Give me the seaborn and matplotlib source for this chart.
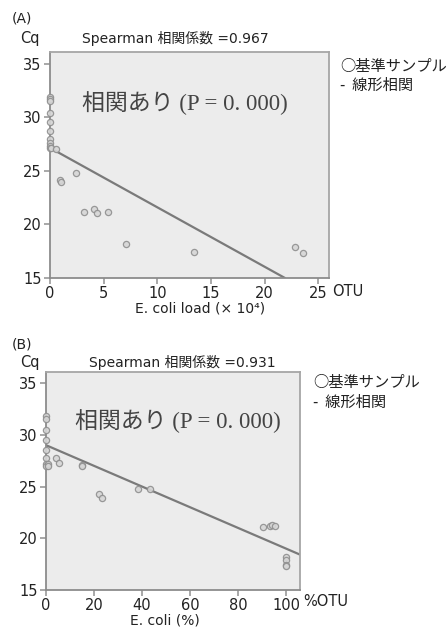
import numpy as np
import pandas as pd
import matplotlib
matplotlib.use("Agg")
import matplotlib.pyplot as plt
import seaborn as sns

sns.set_style("white")
plt.rcParams["font.family"] = ["DejaVu Sans", "Noto Sans CJK JP"]

# panel A: E. coli load (x10^4 OTU) vs Cq
load_a = [0, 0, 0, 0, 0, 0, 0, 0, 0, 0, 0.1, 0.6, 0.9, 1.0, 2.4,
          3.2, 4.1, 4.4, 5.4, 7.1, 13.4, 22.8, 23.6]
cq_a = [31.9, 31.7, 31.5, 30.45, 29.6, 28.7, 28.0, 27.6, 27.3, 27.1, 27.1, 27.05,
        24.15, 23.95, 24.8, 21.2, 21.4, 21.05, 21.2, 18.2, 17.4, 17.9, 17.3]
fit_a = (27.15, -0.555)

# panel B: E. coli (%OTU) vs Cq
pct_b = [0, 0, 0, 0, 0, 0, 0, 0, 1, 1, 4.2, 5.3, 15.2, 15.2, 22.2, 23.2,
         38.2, 43.2, 90.4, 93.3, 94.3, 95.3, 100, 100, 100, 100]
cq_b = [31.8, 31.5, 30.45, 29.5, 28.5, 27.8, 27.2, 27.0, 27.15, 27.0, 27.8, 27.3,
        27.1, 27.0, 24.25, 23.9, 24.75, 24.8, 21.05, 21.2, 21.3, 21.2,
        18.2, 17.9, 17.4, 17.3]
fit_b = (29.0, -0.1)

rho = ["0.967", "0.931"]
xlabels = ["E. coli load (\u00d7 10\u2074)", "E. coli (%)"]
unit_labels = ["OTU", "%OTU"]
panel_tags = ["(A)", "(B)"]
xlims = [(0, 26.0), (0, 105.8)]
xticks = [[0, 5, 10, 15, 20, 25], [0, 20, 40, 60, 80, 100]]
yticks = [15, 20, 25, 30, 35]

fig = plt.figure(figsize=(4.48, 6.28), dpi=100)
W, H = 448, 628


def px(x0, y0, x1, y1):
    return [x0 / W, 1 - y1 / H, (x1 - x0) / W, (y1 - y0) / H]


boxes = [px(50, 52, 329, 278), px(46, 371.7, 300, 590)]
# pixel positions (from top) of the texts around each panel
tag_y = [18, 345]
head_y = [38, 362]
title_x = [175, 182]
legend_x = [340, 313]
legend_y = [(66, 85), (383, 402)]
unit_y = [291, 602]
xlab = [(200, 309), (165, 621)]

frame_col = "#a6a6a6"
text_col = "#222222"
datasets = [(load_a, cq_a, fit_a), (pct_b, cq_b, fit_b)]


def fx(v):
    return v / W


def fy(v):
    return 1 - v / H


for i, (xs, ys, fit) in enumerate(datasets):
    ax = fig.add_axes(boxes[i])
    ax.set_facecolor("#ececec")
    df = pd.DataFrame({"x": xs, "cq": ys})
    sns.scatterplot(data=df, x="x", y="cq", ax=ax, s=20, marker="o",
                    facecolor="#d6d6d6", edgecolor="#8f8f8f", linewidth=0.9,
                    alpha=0.9, clip_on=False, zorder=3)
    ax.axline((0, fit[0]), slope=fit[1], color="#7a7a7a", lw=1.6, zorder=2)
    ax.set_xlim(*xlims[i])
    ax.set_ylim(15, 36.1)
    ax.set_xticks(xticks[i])
    ax.set_yticks(yticks)
    ax.set_xlabel("")
    ax.set_ylabel("")
    ax.tick_params(axis="both", which="both", direction="out", length=4,
                   width=1.2, color="#999999", labelsize=10.5, labelcolor=text_col,
                   bottom=True, left=True, pad=2)
    for sp in ax.spines.values():
        sp.set_color(frame_col)
        sp.set_linewidth(1.3)
    ax.spines["left"].set_color("#8c8c8c")
    ax.spines["bottom"].set_color("#8c8c8c")

    fig.text(fx(12), fy(tag_y[i]), panel_tags[i], fontsize=10, color=text_col,
             va="center", ha="left")
    fig.text(fx(20), fy(head_y[i]), "Cq", fontsize=10.5, color=text_col,
             va="center", ha="left")
    fig.text(fx(title_x[i]), fy(head_y[i]), "Spearman 相関係数 =" + rho[i],
             fontsize=10, color=text_col, va="center", ha="center",
             family=["DejaVu Sans", "Noto Sans CJK JP"])
    fig.text(fx(legend_x[i]), fy(legend_y[i][0]), "○基準サンプル", fontsize=11,
             color=text_col, va="center", ha="left",
             family=["Noto Sans CJK JP", "DejaVu Sans"])
    fig.text(fx(legend_x[i]), fy(legend_y[i][1]), "-  線形相関", fontsize=11,
             color=text_col, va="center", ha="left",
             family=["Noto Sans CJK JP", "DejaVu Sans"])
    ax.text(0.115, 0.775, "相関あり (P = 0. 000)", transform=ax.transAxes,
            fontsize=16.5, color="#444444", va="center", ha="left",
            family=["Liberation Serif", "Noto Sans CJK JP"])
    fig.text(boxes[i][0] + boxes[i][2] + 0.008, fy(unit_y[i]), unit_labels[i],
             fontsize=10.5, color=text_col, va="center", ha="left")
    fig.text(fx(xlab[i][0]), fy(xlab[i][1]), xlabels[i], fontsize=10,
             color=text_col, va="center", ha="center",
             family=["DejaVu Sans", "Noto Sans CJK JP"])

fig.savefig("out.png", dpi=100)
